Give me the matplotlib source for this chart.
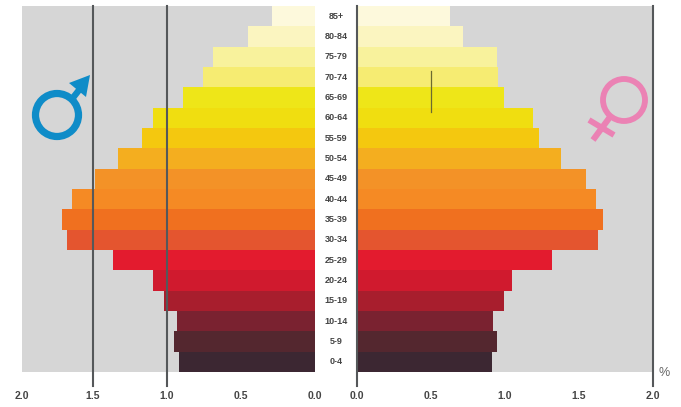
import matplotlib
matplotlib.use("Agg")
import matplotlib.pyplot as plt
from matplotlib.patches import Circle, Polygon

ages = ["85+", "80-84", "75-79", "70-74", "65-69", "60-64", "55-59", "50-54", "45-49",
        "40-44", "35-39", "30-34", "25-29", "20-24", "15-19", "10-14", "5-9", "0-4"]
male = [0.29, 0.45, 0.69, 0.757, 0.89, 1.095, 1.17, 1.33, 1.486,
        1.64, 1.71, 1.676, 1.365, 1.095, 1.02, 0.93, 0.95, 0.92]
female = [0.63, 0.716, 0.946, 0.95, 0.99, 1.19, 1.23, 1.38, 1.547,
          1.615, 1.66, 1.63, 1.32, 1.05, 0.99, 0.92, 0.946, 0.91]
colors = ["#FDF9DC", "#FBF5C0", "#F8F29C", "#F6EC72", "#EEE618", "#F0DE10", "#F4C80F", "#F4AE1F", "#F39227",
          "#F58A24", "#F0701F", "#E4552F", "#E31B2E", "#D01A2E", "#A81E2D", "#7A2230", "#54272F", "#3C2732"]
tick_vals = [0.0, 0.5, 1.0, 1.5, 2.0]
tick_labels = ["0.0", "0.5", "1.0", "1.5", "2.0"]

W, H = 681, 407
GRAY = "#D6D6D6"
LINE = "#55585A"
TXT = "#444444"
BLUE = "#0F8CC8"
PINK = "#EB82B4"
plt.rcParams["font.family"] = ["Liberation Sans", "DejaVu Sans"]

fig = plt.figure(figsize=(W / 100, H / 100), dpi=100, facecolor="white")


def px_axes(x0, x1, y0, y1):
    return fig.add_axes([x0 / W, 1 - y1 / H, (x1 - x0) / W, (y1 - y0) / H])


PX_PER_UNIT = 148
TOP, BOTTOM = 6, 372
ax_l = px_axes(22, 315, TOP, BOTTOM)
ax_r = px_axes(357, 653, TOP, BOTTOM)
ax_m = px_axes(315, 357, TOP, BOTTOM)

ypos = list(range(len(ages)))
for ax, vals in ((ax_l, male), (ax_r, female)):
    ax.set_facecolor(GRAY)
    ax.barh(ypos, vals, height=1.0, color=colors, linewidth=0, zorder=2)
    ax.set_ylim(len(ages) - 0.5, -0.5)
    ax.set_yticks([])
    for s in ax.spines.values():
        s.set_visible(False)
    ax.tick_params(axis="x", length=0, labelsize=7.5, labelcolor=TXT, pad=14)

ax_l.set_xlim(293 / PX_PER_UNIT, 0)
ax_r.set_xlim(0, 2.0)
ax_l.set_xticks([0.0, 0.5, 1.0, 1.5, 293 / PX_PER_UNIT])
ax_l.set_xticklabels(tick_labels, fontweight="bold")
ax_r.set_xticks(tick_vals)
ax_r.set_xticklabels(tick_labels, fontweight="bold")

# dark grid lines, extending below the plot
ext = dict(color=LINE, linewidth=1.5, zorder=5, clip_on=False)
ax_l.plot([1.0, 1.0], [-0.5, 18.2], **ext)
ax_l.plot([1.5, 1.5], [-0.5, 18.2], **ext)
ax_r.plot([0.0, 0.0], [-0.5, 18.2], **ext)
ax_r.plot([2.0, 2.0], [-0.5, 18.2], **ext)
ax_r.plot([0.5, 0.5], [2.7, 4.7], color="#6B6A30", linewidth=0.9, zorder=5)

ax_m.set_xlim(0, 1)
ax_m.set_ylim(len(ages) - 0.5, -0.5)
ax_m.axis("off")
for y, a in zip(ypos, ages):
    ax_m.text(0.5, y, a, ha="center", va="center", fontsize=6.5, fontweight="bold", color=TXT)

fig.text(664 / W, 1 - 373 / H, "%", ha="center", va="center", fontsize=9, color="#666666")

# gender symbols, drawn in a pixel-space overlay
ov = fig.add_axes([0, 0, 1, 1], facecolor="none")
ov.set_xlim(0, W)
ov.set_ylim(H, 0)
ov.axis("off")
ov.add_patch(Circle((57, 115), 21.5, fill=False, ec=BLUE, lw=5.2))
ov.plot([72, 83], [99, 85], color=BLUE, lw=4.6, solid_capstyle="butt")
ov.add_patch(Polygon([(90, 75), (69, 83), (86, 97)], closed=True, fc=BLUE, ec="none"))
ov.add_patch(Circle((624, 100), 21, fill=False, ec=PINK, lw=4.2))
ov.plot([610, 593], [117, 140], color=PINK, lw=4.4, solid_capstyle="butt")
ov.plot([589, 614], [120, 135], color=PINK, lw=4.2, solid_capstyle="butt")

fig.savefig("out.png", dpi=100)
